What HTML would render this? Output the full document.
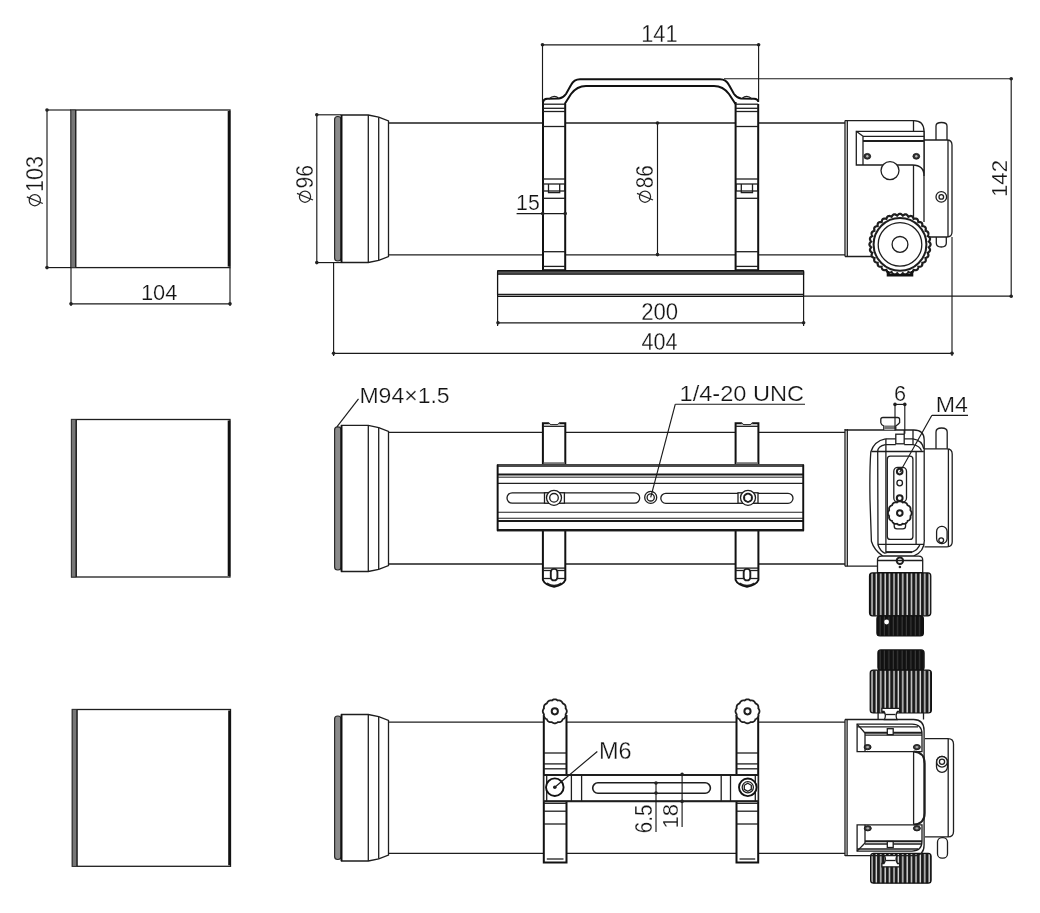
<!DOCTYPE html>
<html><head><meta charset="utf-8"><style>
html,body{margin:0;padding:0;background:#fff;}
svg{display:block;filter:grayscale(1);}
.o{fill:none;stroke:#1e1e1e;stroke-width:1.3;}
.o2{fill:none;stroke:#1e1e1e;stroke-width:2;}
.r{fill:none;stroke:#111;stroke-width:2;}
.thick{fill:none;stroke:#111;stroke-width:2.6;}
.g{fill:#777;stroke:#333;stroke-width:0.8;}
.d{fill:none;stroke:#1a1a1a;stroke-width:1.15;}
.dot{fill:#222;stroke:none;}
.f{fill:#222;stroke:none;}
.wf{fill:#fff;stroke:none;}
.w2{fill:#fff;stroke:#111;stroke-width:1.9;}
.w{fill:#fff;stroke:#1e1e1e;stroke-width:1.3;}
text{font-family:"Liberation Sans",sans-serif;fill:#111;stroke:#fff;stroke-width:1.1;opacity:0.99;}
</style></head><body>
<svg width="1040" height="913" viewBox="0 0 1040 913">
<defs>
<pattern id="kn" width="4.4" height="20" patternUnits="userSpaceOnUse" x="870"><rect width="4.4" height="20" fill="#1a1a1a"/><rect x="1.3" width="1.4" height="20" fill="#dcdcdc"/></pattern>
<pattern id="kn2" width="4.4" height="20" patternUnits="userSpaceOnUse" x="878"><rect width="4.4" height="20" fill="#111"/><rect x="1.6" width="0.8" height="20" fill="#4a4a4a"/></pattern>
</defs>
<rect class="o" x="71" y="110" width="159" height="157.60000000000002" />
<rect class="g" x="71" y="110" width="4.5" height="157.60000000000002" />
<line class="o" x1="75.8" y1="110" x2="75.8" y2="267.6"/>
<line class="thick" x1="229" y1="111" x2="229" y2="266.6"/>
<rect class="o" x="71.5" y="419.5" width="158.5" height="157.5" />
<rect class="g" x="71.5" y="419.5" width="4.5" height="157.5" />
<line class="o" x1="76.3" y1="419.5" x2="76.3" y2="577"/>
<line class="thick" x1="229" y1="420.5" x2="229" y2="576"/>
<rect class="o" x="72.3" y="709.5" width="158.2" height="156.79999999999995" />
<rect class="g" x="72.3" y="709.5" width="4.5" height="156.79999999999995" />
<line class="o" x1="77.1" y1="709.5" x2="77.1" y2="866.3"/>
<line class="thick" x1="229.5" y1="710.5" x2="229.5" y2="865.3"/>
<line class="d" x1="47" y1="110" x2="71" y2="110"/>
<line class="d" x1="47" y1="267.6" x2="71" y2="267.6"/>
<line class="d" x1="47" y1="110" x2="47" y2="267.6"/>
<circle class="dot" cx="47" cy="110" r="1.8"/>
<circle class="dot" cx="47" cy="267.6" r="1.8"/>
<line class="d" x1="71" y1="267.6" x2="71" y2="306"/>
<line class="d" x1="230" y1="267.6" x2="230" y2="306"/>
<line class="d" x1="71" y1="303.8" x2="230" y2="303.8"/>
<circle class="dot" cx="71" cy="303.8" r="1.8"/>
<circle class="dot" cx="230" cy="303.8" r="1.8"/>
<text x="0" y="0" font-size="100" transform="matrix(0.21859 0 0 0.22714 140.951 300.300)">104</text>
<rect x="334.6" y="116.5" width="6.4" height="144.5" rx="3" fill="#8a8a8a" stroke="#2a2a2a" stroke-width="1.2"/>
<path class="o" d="M341.5 115 L368.3 115 L378.7 117.2 L388.5 121 L388.5 256.5 L378.7 260.3 L368.3 262.5 L341.5 262.5 Z" />
<path d="M341.5 115 L341.5 262.5" stroke="#111" stroke-width="1.8" fill="none"/>
<line class="o" x1="368.3" y1="115" x2="368.3" y2="262.5"/>
<line class="o" x1="378.7" y1="117.2" x2="378.7" y2="260.3"/>
<line class="o" x1="388.5" y1="123" x2="845" y2="123"/>
<line class="o" x1="388.5" y1="254.8" x2="845" y2="254.8"/>
<rect x="334.6" y="426.9" width="6.4" height="143.10000000000002" rx="3" fill="#8a8a8a" stroke="#2a2a2a" stroke-width="1.2"/>
<path class="o" d="M341.5 425.4 L368.3 425.4 L378.7 427.59999999999997 L388.5 431.4 L388.5 565.5 L378.7 569.3 L368.3 571.5 L341.5 571.5 Z" />
<path d="M341.5 425.4 L341.5 571.5" stroke="#111" stroke-width="1.8" fill="none"/>
<line class="o" x1="368.3" y1="425.4" x2="368.3" y2="571.5"/>
<line class="o" x1="378.7" y1="427.59999999999997" x2="378.7" y2="569.3"/>
<line class="o" x1="388.5" y1="432.3" x2="845" y2="432.3"/>
<line class="o" x1="388.5" y1="564" x2="845" y2="564"/>
<rect x="334.6" y="716.0" width="6.4" height="143.5" rx="3" fill="#8a8a8a" stroke="#2a2a2a" stroke-width="1.2"/>
<path class="o" d="M341.5 714.5 L368.3 714.5 L378.7 716.7 L388.5 720.5 L388.5 855 L378.7 858.8 L368.3 861 L341.5 861 Z" />
<path d="M341.5 714.5 L341.5 861" stroke="#111" stroke-width="1.8" fill="none"/>
<line class="o" x1="368.3" y1="714.5" x2="368.3" y2="861"/>
<line class="o" x1="378.7" y1="716.7" x2="378.7" y2="858.8"/>
<line class="o" x1="388.5" y1="722.2" x2="845" y2="722.2"/>
<line class="o" x1="388.5" y1="853.3" x2="845" y2="853.3"/>
<rect x="543" y="103" width="22.200000000000045" height="169" fill="#fff"/>
<path class="r" d="M543 102 L543 272.5 M565.2 104 L565.2 272.5"/>
<line class="o" x1="543" y1="104.2" x2="565.2" y2="104.2"/>
<line class="o" x1="543" y1="108.3" x2="565.2" y2="108.3"/>
<line class="o" x1="543" y1="111.5" x2="565.2" y2="111.5"/>
<line class="o" x1="543" y1="126.5" x2="565.2" y2="126.5"/>
<line class="o" x1="543" y1="179" x2="565.2" y2="179"/>
<line class="o" x1="543" y1="198.3" x2="565.2" y2="198.3"/>
<line class="o" x1="543" y1="251.7" x2="565.2" y2="251.7"/>
<line class="o" x1="543" y1="266.4" x2="565.2" y2="266.4"/>
<line class="o" x1="543" y1="269.8" x2="565.2" y2="269.8"/>
<rect class="o" x="543.5" y="184" width="21.200000000000045" height="7" />
<path class="o" d="M548.5 184 L548.5 192.7 L559.7 192.7 L559.7 184" />
<rect x="735.6" y="103" width="22.600000000000023" height="169" fill="#fff"/>
<path class="r" d="M735.6 102 L735.6 272.5 M758.2 104 L758.2 272.5"/>
<line class="o" x1="735.6" y1="104.2" x2="758.2" y2="104.2"/>
<line class="o" x1="735.6" y1="108.3" x2="758.2" y2="108.3"/>
<line class="o" x1="735.6" y1="111.5" x2="758.2" y2="111.5"/>
<line class="o" x1="735.6" y1="126.5" x2="758.2" y2="126.5"/>
<line class="o" x1="735.6" y1="179" x2="758.2" y2="179"/>
<line class="o" x1="735.6" y1="198.3" x2="758.2" y2="198.3"/>
<line class="o" x1="735.6" y1="251.7" x2="758.2" y2="251.7"/>
<line class="o" x1="735.6" y1="266.4" x2="758.2" y2="266.4"/>
<line class="o" x1="735.6" y1="269.8" x2="758.2" y2="269.8"/>
<rect class="o" x="736.1" y="184" width="21.600000000000023" height="7" />
<path class="o" d="M741.3000000000001 184 L741.3000000000001 192.7 L752.5000000000001 192.7 L752.5000000000001 184" />
<path class="r" d="M543 102 Q543.5 99 547 98.8 L559 98.5 Q563 98 566 94 L571 85 Q574 79.2 580 79.2 L720 79.2 Q726 79.2 729 85 L734 94 Q737 98 741 98.5 L754 98.8 Q758 99 758.3 102"/>
<path class="r" d="M564.7 104 L571 94 Q577 86 586 86 L714 86 Q723 86 729 94 L735.5 104"/>
<path class="o" d="M549 99 Q554 94 559 98.5" />
<path class="o" d="M742 98.5 Q747 94 752 99" />
<rect x="497.6" y="270.7" width="306" height="25.7" rx="1" fill="#fff" stroke="#111" stroke-width="1.3"/>
<rect x="497.6" y="270.9" width="306" height="3.3" fill="#555" stroke="#111" stroke-width="1.1"/>
<line class="o" x1="497.6" y1="294.5" x2="803.6" y2="294.5"/>
<line class="d" x1="657.5" y1="123" x2="657.5" y2="254.6"/>
<circle class="dot" cx="657.5" cy="123" r="1.8"/>
<circle class="dot" cx="657.5" cy="254.6" r="1.8"/>
<line class="d" x1="516.6" y1="213.6" x2="565.4" y2="213.6"/>
<circle class="dot" cx="542.7" cy="213.6" r="1.8"/>
<circle class="dot" cx="565.2" cy="213.6" r="1.8"/>
<text x="0" y="0" font-size="100" transform="matrix(0.21313 0 0 0.21571 516.095 209.800)">15</text>
<line class="d" x1="542.5" y1="44.8" x2="758.6" y2="44.8"/>
<circle class="dot" cx="542.5" cy="44.8" r="1.8"/>
<circle class="dot" cx="758.6" cy="44.8" r="1.8"/>
<line class="d" x1="542.5" y1="44.8" x2="542.5" y2="102"/>
<line class="d" x1="758.6" y1="44.8" x2="758.6" y2="101"/>
<text x="0" y="0" font-size="100" transform="matrix(0.21688 0 0 0.23000 641.265 41.800)">141</text>
<line class="d" x1="724" y1="78.7" x2="1011.2" y2="78.7"/>
<line class="d" x1="803.6" y1="296.1" x2="1011.2" y2="296.1"/>
<line class="d" x1="1011.2" y1="78.7" x2="1011.2" y2="296.3"/>
<circle class="dot" cx="1011.2" cy="78.7" r="1.8"/>
<circle class="dot" cx="1011.2" cy="296.3" r="1.8"/>
<line class="d" x1="497.6" y1="296" x2="497.6" y2="326"/>
<line class="d" x1="803.6" y1="296" x2="803.6" y2="326"/>
<line class="d" x1="498" y1="322.8" x2="803.6" y2="322.8"/>
<circle class="dot" cx="498" cy="322.8" r="1.8"/>
<circle class="dot" cx="803.6" cy="322.8" r="1.8"/>
<text x="0" y="0" font-size="100" transform="matrix(0.22152 0 0 0.23000 641.192 319.600)">200</text>
<line class="d" x1="333.6" y1="262" x2="333.6" y2="356"/>
<line class="d" x1="952" y1="237" x2="952" y2="356"/>
<line class="d" x1="333.6" y1="353.3" x2="952" y2="353.3"/>
<circle class="dot" cx="333.6" cy="353.3" r="1.8"/>
<circle class="dot" cx="952" cy="353.3" r="1.8"/>
<text x="0" y="0" font-size="100" transform="matrix(0.21605 0 0 0.23143 641.468 350.400)">404</text>
<line class="d" x1="316.8" y1="114.8" x2="341" y2="114.8"/>
<line class="d" x1="316.8" y1="262.6" x2="341" y2="262.6"/>
<line class="d" x1="316.8" y1="114.8" x2="316.8" y2="262.6"/>
<circle class="dot" cx="316.8" cy="114.8" r="1.8"/>
<circle class="dot" cx="316.8" cy="262.6" r="1.8"/>
<path class="o" d="M845 120.6 L913.7 120.6 Q924 120.6 924 131.3 L924 222" />
<line class="o" x1="845" y1="120.6" x2="845" y2="256.5"/>
<line class="o" x1="847.3" y1="120.6" x2="847.3" y2="256.5"/>
<line class="o" x1="845" y1="256.5" x2="880" y2="256.5"/>
<line class="o" x1="913.5" y1="120.6" x2="913.5" y2="222"/>
<path class="w" d="M856.3 131.3 L924 131.3 L924 176 Q924 165 912.5 165 L856.3 165 Z" />
<line class="o" x1="863" y1="136.3" x2="863" y2="165"/>
<line class="o" x1="856.3" y1="131.3" x2="863" y2="136.3"/>
<line class="o" x1="863" y1="136.3" x2="924" y2="136.3"/>
<line class="o2" x1="863" y1="141" x2="924" y2="141"/>
<ellipse cx="867.3" cy="156.3" rx="3.4" ry="2.9" fill="#333" stroke="#111" stroke-width="0.8"/><circle cx="867.3" cy="156.3" r="1.2" fill="#bbb"/>
<ellipse cx="916.3" cy="156.3" rx="3.4" ry="2.9" fill="#333" stroke="#111" stroke-width="0.8"/><circle cx="916.3" cy="156.3" r="1.2" fill="#bbb"/>
<circle class="w" cx="890" cy="170.6" r="9" />
<path class="o" d="M924 140 L947 140 Q952 140 952 145 L952 232 Q952 237 947 237 L924 237" />
<line class="o" x1="948" y1="140" x2="948" y2="237"/>
<path class="o" d="M936 140 L936 126 Q936 122.5 941.5 122.5 Q947 122.5 947 126 L947 140" />
<path class="o" d="M936.3 237 L936.3 243 Q936.3 247 941.3 247 Q946.3 247 946.3 243 L946.3 237" />
<circle class="o" cx="941.3" cy="196.9" r="5.3" />
<circle class="o" cx="941.3" cy="196.9" r="2.3" />
<path class="w" d="M930.60 244.40 L930.54 244.90 L930.36 245.39 L930.07 245.88 L929.69 246.35 L929.24 246.80 L928.76 247.23 L929.15 247.75 L929.50 248.28 L929.78 248.82 L929.97 249.35 L930.05 249.87 L930.01 250.37 L929.85 250.85 L929.58 251.30 L929.20 251.71 L928.74 252.10 L928.21 252.46 L927.66 252.79 L927.93 253.38 L928.17 253.96 L928.34 254.54 L928.43 255.10 L928.40 255.62 L928.27 256.11 L928.02 256.55 L927.66 256.93 L927.21 257.27 L926.68 257.56 L926.10 257.81 L925.49 258.02 L925.65 258.65 L925.76 259.27 L925.82 259.88 L925.79 260.44 L925.67 260.95 L925.44 261.40 L925.11 261.78 L924.69 262.09 L924.18 262.33 L923.60 262.51 L922.98 262.64 L922.34 262.73 L922.37 263.38 L922.37 264.02 L922.30 264.62 L922.17 265.16 L921.95 265.64 L921.64 266.04 L921.24 266.35 L920.76 266.57 L920.22 266.70 L919.62 266.77 L918.98 266.77 L918.33 266.74 L918.24 267.38 L918.11 268.00 L917.93 268.58 L917.69 269.09 L917.38 269.51 L917.00 269.84 L916.55 270.07 L916.04 270.19 L915.48 270.22 L914.88 270.16 L914.25 270.05 L913.62 269.89 L913.41 270.50 L913.16 271.08 L912.87 271.61 L912.53 272.06 L912.15 272.42 L911.71 272.67 L911.22 272.80 L910.70 272.83 L910.14 272.74 L909.56 272.57 L908.98 272.33 L908.39 272.06 L908.06 272.61 L907.70 273.14 L907.31 273.60 L906.90 273.98 L906.45 274.25 L905.97 274.41 L905.47 274.45 L904.95 274.37 L904.42 274.18 L903.88 273.90 L903.35 273.55 L902.83 273.16 L902.40 273.64 L901.95 274.09 L901.48 274.47 L900.99 274.76 L900.50 274.94 L900.00 275.00 L899.50 274.94 L899.01 274.76 L898.52 274.47 L898.05 274.09 L897.60 273.64 L897.17 273.16 L896.65 273.55 L896.12 273.90 L895.58 274.18 L895.05 274.37 L894.53 274.45 L894.03 274.41 L893.55 274.25 L893.10 273.98 L892.69 273.60 L892.30 273.14 L891.94 272.61 L891.61 272.06 L891.02 272.33 L890.44 272.57 L889.86 272.74 L889.30 272.83 L888.78 272.80 L888.29 272.67 L887.85 272.42 L887.47 272.06 L887.13 271.61 L886.84 271.08 L886.59 270.50 L886.38 269.89 L885.75 270.05 L885.12 270.16 L884.52 270.22 L883.96 270.19 L883.45 270.07 L883.00 269.84 L882.62 269.51 L882.31 269.09 L882.07 268.58 L881.89 268.00 L881.76 267.38 L881.67 266.74 L881.02 266.77 L880.38 266.77 L879.78 266.70 L879.24 266.57 L878.76 266.35 L878.36 266.04 L878.05 265.64 L877.83 265.16 L877.70 264.62 L877.63 264.02 L877.63 263.38 L877.66 262.73 L877.02 262.64 L876.40 262.51 L875.82 262.33 L875.31 262.09 L874.89 261.78 L874.56 261.40 L874.33 260.95 L874.21 260.44 L874.18 259.88 L874.24 259.27 L874.35 258.65 L874.51 258.02 L873.90 257.81 L873.32 257.56 L872.79 257.27 L872.34 256.93 L871.98 256.55 L871.73 256.11 L871.60 255.62 L871.57 255.10 L871.66 254.54 L871.83 253.96 L872.07 253.38 L872.34 252.79 L871.79 252.46 L871.26 252.10 L870.80 251.71 L870.42 251.30 L870.15 250.85 L869.99 250.37 L869.95 249.87 L870.03 249.35 L870.22 248.82 L870.50 248.28 L870.85 247.75 L871.24 247.23 L870.76 246.80 L870.31 246.35 L869.93 245.88 L869.64 245.39 L869.46 244.90 L869.40 244.40 L869.46 243.90 L869.64 243.41 L869.93 242.92 L870.31 242.45 L870.76 242.00 L871.24 241.57 L870.85 241.05 L870.50 240.52 L870.22 239.98 L870.03 239.45 L869.95 238.93 L869.99 238.43 L870.15 237.95 L870.42 237.50 L870.80 237.09 L871.26 236.70 L871.79 236.34 L872.34 236.01 L872.07 235.42 L871.83 234.84 L871.66 234.26 L871.57 233.70 L871.60 233.18 L871.73 232.69 L871.98 232.25 L872.34 231.87 L872.79 231.53 L873.32 231.24 L873.90 230.99 L874.51 230.78 L874.35 230.15 L874.24 229.53 L874.18 228.92 L874.21 228.36 L874.33 227.85 L874.56 227.40 L874.89 227.02 L875.31 226.71 L875.82 226.47 L876.40 226.29 L877.02 226.16 L877.66 226.07 L877.63 225.42 L877.63 224.78 L877.70 224.18 L877.83 223.64 L878.05 223.16 L878.36 222.76 L878.76 222.45 L879.24 222.23 L879.78 222.10 L880.38 222.03 L881.02 222.03 L881.67 222.06 L881.76 221.42 L881.89 220.80 L882.07 220.22 L882.31 219.71 L882.62 219.29 L883.00 218.96 L883.45 218.73 L883.96 218.61 L884.52 218.58 L885.12 218.64 L885.75 218.75 L886.38 218.91 L886.59 218.30 L886.84 217.72 L887.13 217.19 L887.47 216.74 L887.85 216.38 L888.29 216.13 L888.78 216.00 L889.30 215.97 L889.86 216.06 L890.44 216.23 L891.02 216.47 L891.61 216.74 L891.94 216.19 L892.30 215.66 L892.69 215.20 L893.10 214.82 L893.55 214.55 L894.03 214.39 L894.53 214.35 L895.05 214.43 L895.58 214.62 L896.12 214.90 L896.65 215.25 L897.17 215.64 L897.60 215.16 L898.05 214.71 L898.52 214.33 L899.01 214.04 L899.50 213.86 L900.00 213.80 L900.50 213.86 L900.99 214.04 L901.48 214.33 L901.95 214.71 L902.40 215.16 L902.83 215.64 L903.35 215.25 L903.88 214.90 L904.42 214.62 L904.95 214.43 L905.47 214.35 L905.97 214.39 L906.45 214.55 L906.90 214.82 L907.31 215.20 L907.70 215.66 L908.06 216.19 L908.39 216.74 L908.98 216.47 L909.56 216.23 L910.14 216.06 L910.70 215.97 L911.22 216.00 L911.71 216.13 L912.15 216.38 L912.53 216.74 L912.87 217.19 L913.16 217.72 L913.41 218.30 L913.62 218.91 L914.25 218.75 L914.88 218.64 L915.48 218.58 L916.04 218.61 L916.55 218.73 L917.00 218.96 L917.38 219.29 L917.69 219.71 L917.93 220.22 L918.11 220.80 L918.24 221.42 L918.33 222.06 L918.98 222.03 L919.62 222.03 L920.22 222.10 L920.76 222.23 L921.24 222.45 L921.64 222.76 L921.95 223.16 L922.17 223.64 L922.30 224.18 L922.37 224.78 L922.37 225.42 L922.34 226.07 L922.98 226.16 L923.60 226.29 L924.18 226.47 L924.69 226.71 L925.11 227.02 L925.44 227.40 L925.67 227.85 L925.79 228.36 L925.82 228.92 L925.76 229.52 L925.65 230.15 L925.49 230.78 L926.10 230.99 L926.68 231.24 L927.21 231.53 L927.66 231.87 L928.02 232.25 L928.27 232.69 L928.40 233.18 L928.43 233.70 L928.34 234.26 L928.17 234.84 L927.93 235.42 L927.66 236.01 L928.21 236.34 L928.74 236.70 L929.20 237.09 L929.58 237.50 L929.85 237.95 L930.01 238.43 L930.05 238.93 L929.97 239.45 L929.78 239.98 L929.50 240.52 L929.15 241.05 L928.76 241.57 L929.24 242.00 L929.69 242.45 L930.07 242.92 L930.36 243.41 L930.54 243.90 L930.60 244.40Z" style="stroke-width:2.2"/>
<path class="thick" d="M888 271 L888 275.3 L912 275.3 L912 271" />
<circle class="o2" cx="900" cy="244.4" r="26.4" />
<circle class="o" cx="900" cy="244.4" r="21.8" />
<circle class="o" cx="900" cy="244.4" r="7.9" />
<circle cx="34.8" cy="200.20000000000002" r="5.6" fill="none" stroke="#262626" stroke-width="1.25"/>
<line x1="26.799999999999997" y1="196.9" x2="42.8" y2="203.50000000000003" stroke="#262626" stroke-width="1.25"/>
<text x="0" y="0" font-size="100" transform="matrix(0 -0.21623 0.23286 0 42.800 191.930)">103</text>
<circle cx="305" cy="196.70000000000002" r="5.6" fill="none" stroke="#262626" stroke-width="1.25"/>
<line x1="297" y1="193.4" x2="313" y2="200.00000000000003" stroke="#262626" stroke-width="1.25"/>
<text x="0" y="0" font-size="100" transform="matrix(0 -0.21078 0.23286 0 313.000 188.554)">96</text>
<circle cx="645" cy="196.70000000000002" r="5.6" fill="none" stroke="#262626" stroke-width="1.25"/>
<line x1="637" y1="193.4" x2="653" y2="200.00000000000003" stroke="#262626" stroke-width="1.25"/>
<text x="0" y="0" font-size="100" transform="matrix(0 -0.20777 0.23286 0 653.000 188.331)">86</text>
<text x="0" y="0" font-size="100" transform="matrix(0 -0.22208 0.22571 0 1007.000 196.977)">142</text>
<path class="r" style="fill:#fff" d="M542.9 464.5 L542.9 423.2 L565.3 423.2 L565.3 464.5"/>
<rect x="548.8999999999999" y="422" width="10.4" height="2.4" fill="#fff"/>
<path d="M548.8999999999999 422.6 Q549.5999999999999 424.6 551.0999999999999 424.6 L557.0999999999999 424.6 Q558.5999999999999 424.6 559.3 422.6" fill="none" stroke="#222" stroke-width="1"/>
<line class="o" x1="542.9" y1="426.3" x2="565.3" y2="426.3"/>
<rect x="543.6999999999999" y="462.2" width="20.799999999999976" height="2.6" fill="#777"/>
<path class="r" style="fill:#fff" d="M542.9 531 L542.9 580 Q544.9 585 554.0999999999999 586.7 Q563.3 585 565.3 580 L565.3 531"/>
<line class="o" x1="542.9" y1="568.1" x2="565.3" y2="568.1"/>
<line class="o" x1="542.9" y1="570.5" x2="565.3" y2="570.5"/>
<line class="o" x1="542.9" y1="578.5" x2="565.3" y2="578.5"/>
<rect class="w" style="stroke-width:1.9" x="550.8" y="568.9" width="6.6" height="11.5" rx="3.2"/>
<path class="o" d="M546.9 583 Q554.0999999999999 588 561.3 583" />
<path class="r" style="fill:#fff" d="M735.6 464.5 L735.6 423.2 L758.4 423.2 L758.4 464.5"/>
<rect x="741.8" y="422" width="10.4" height="2.4" fill="#fff"/>
<path d="M741.8 422.6 Q742.5 424.6 744.0 424.6 L750.0 424.6 Q751.5 424.6 752.2 422.6" fill="none" stroke="#222" stroke-width="1"/>
<line class="o" x1="735.6" y1="426.3" x2="758.4" y2="426.3"/>
<rect x="736.4" y="462.2" width="21.199999999999953" height="2.6" fill="#777"/>
<path class="r" style="fill:#fff" d="M735.6 531 L735.6 580 Q737.6 585 747.0 586.7 Q756.4 585 758.4 580 L758.4 531"/>
<line class="o" x1="735.6" y1="568.1" x2="758.4" y2="568.1"/>
<line class="o" x1="735.6" y1="570.5" x2="758.4" y2="570.5"/>
<line class="o" x1="735.6" y1="578.5" x2="758.4" y2="578.5"/>
<rect class="w" style="stroke-width:1.9" x="743.7" y="568.9" width="6.6" height="11.5" rx="3.2"/>
<path class="o" d="M739.6 583 Q747.0 588 754.4 583" />
<rect class="w" x="497.6" y="464.8" width="305.7" height="66" />
<path d="M497.6 465.6 L803.3 465.6" fill="none" stroke="#4a4a4a" stroke-width="2.6"/>
<path d="M497.6 474.5 L803.3 474.5 M497.6 521 L803.3 521 M497.6 530 L803.3 530" fill="none" stroke="#1a1a1a" stroke-width="2"/>
<path d="M497.6 477.3 L803.3 477.3" fill="none" stroke="#666" stroke-width="1.6"/>
<path d="M497.6 483.4 L803.3 483.4 M497.6 512.2 L803.3 512.2 M497.6 518.3 L803.3 518.3" fill="none" stroke="#222" stroke-width="1.1"/>
<path d="M497.6 464.8 L497.6 530.8 M803.3 464.8 L803.3 530.8" fill="none" stroke="#111" stroke-width="1.8"/>
<rect class="o" x="507" y="492.8" width="132.7" height="10.4" rx="5.2"/>
<rect class="o" x="660.8" y="493.3" width="132.2" height="10" rx="5"/>
<rect class="w" x="544.5" y="492.8" width="19.899999999999977" height="10.4" />
<circle class="w" cx="554" cy="497.8" r="7.5" />
<circle class="o" cx="554" cy="497.8" r="4.3" />
<rect class="w" x="738" y="492.8" width="20" height="10.4" />
<circle class="w" cx="748" cy="497.8" r="7.5" />
<circle class="o" cx="748" cy="497.8" r="4.3" />
<path class="o" d="M748 493.5 L751.5 495.6 L751.5 499.9 L748 502 L744.5 499.9 L744.5 495.6 Z" />
<circle class="w" cx="650.7" cy="497.4" r="6" />
<circle class="o" cx="650.7" cy="497.4" r="3.6" />
<text x="0" y="0" font-size="100" transform="matrix(0.23026 0 0 0.22643 359.408 402.750)">M94×1.5</text>
<line class="d" x1="358.5" y1="398.8" x2="336.9" y2="426.9"/>
<text x="0" y="0" font-size="100" transform="matrix(0.23605 0 0 0.22429 679.512 400.800)">1/4-20 UNC</text>
<line class="d" x1="675.3" y1="404.2" x2="805" y2="404.2"/>
<line class="d" x1="675.3" y1="404.2" x2="650.7" y2="497.4"/>
<line class="o" x1="845" y1="429" x2="845" y2="566.2"/>
<line class="o" x1="847.3" y1="429" x2="847.3" y2="566.2"/>
<path class="o" d="M845 430 L913.8 430 Q924.2 430 924.2 440 L924.2 540" />
<line class="o" x1="845" y1="566.2" x2="877.5" y2="566.2"/>
<path class="w" d="M883.8 430 L883.8 426 Q881 424.5 880.8 422.7 L880.8 419.5 Q880.8 417.5 883 417.5 L897.5 417.5 Q899.6 417.5 899.6 419.5 L899.6 422.7 Q898.5 424.5 895.8 426 L895.8 430"/>
<rect x="884.5" y="425.5" width="10.5" height="4" fill="#777"/>
<line class="d" x1="904.2" y1="430" x2="904.2" y2="434.2"/>
<path class="o" d="M885.4 438.8 Q874 441 870.8 452 Q869.5 470 870 500 L871.4 541.2 Q874 550 882.8 556.1 L913.5 556.1 Q924.4 552 924.4 540"/>
<path class="o" d="M885.4 438.8 L913 438.8 Q922 440 923.8 448.8"/>
<path class="o" d="M885.4 444.6 Q877.7 446 877.7 451.5 L878 544.7 Q880 551 885.4 553.5"/>
<path class="o" d="M895.8 444.6 Q890 444.6 885.4 444.6 M904.2 444.6 L913 444.6 Q920 446 921.5 450.8"/>
<line class="o" x1="871.5" y1="451.5" x2="923.8" y2="451.5"/>
<line class="o" x1="913" y1="430" x2="913" y2="444.6"/>
<line class="o" x1="885.9" y1="438.8" x2="885.9" y2="553.5"/>
<line class="o" x1="916.1" y1="451.5" x2="916.1" y2="544.3"/>
<line class="o" x1="878" y1="544.3" x2="924.2" y2="544.3"/>
<line class="o2" x1="885.9" y1="552.1" x2="912" y2="552.1"/>
<path class="o" d="M912 552.1 Q918 550 920 544.3" />
<rect class="w" x="895.8" y="434.2" width="8.4" height="9.6" />
<rect class="o" x="887.3" y="456.2" width="25.6" height="83.2" rx="3"/>
<rect class="o" x="893.8" y="467.3" width="12.7" height="34.7" rx="4"/>
<circle class="o2" cx="899.7" cy="471.6" r="2.8" />
<circle class="o" cx="899.7" cy="483" r="2.8" />
<circle class="o2" cx="899.7" cy="498.1" r="2.9" />
<path class="o" d="M894.2 522 L894.2 526 Q894.2 528.9 897 528.9 L902.8 528.9 Q905.6 528.9 905.6 526 L905.6 522" />
<path class="w" d="M911.70 513.10 L911.66 513.62 L911.53 514.13 L911.34 514.62 L911.08 515.09 L910.77 515.53 L910.43 515.95 L910.51 516.48 L910.56 517.02 L910.55 517.55 L910.48 518.08 L910.33 518.58 L910.11 519.05 L909.81 519.48 L909.45 519.86 L909.03 520.18 L908.57 520.46 L908.08 520.69 L907.58 520.88 L907.39 521.38 L907.16 521.87 L906.88 522.33 L906.56 522.75 L906.18 523.11 L905.75 523.41 L905.28 523.63 L904.78 523.78 L904.25 523.85 L903.72 523.86 L903.18 523.81 L902.65 523.73 L902.23 524.07 L901.79 524.38 L901.32 524.64 L900.83 524.83 L900.32 524.96 L899.80 525.00 L899.28 524.96 L898.77 524.83 L898.28 524.64 L897.81 524.38 L897.37 524.07 L896.95 523.73 L896.42 523.81 L895.88 523.86 L895.35 523.85 L894.82 523.78 L894.32 523.63 L893.85 523.41 L893.42 523.11 L893.04 522.75 L892.72 522.33 L892.44 521.87 L892.21 521.38 L892.02 520.88 L891.52 520.69 L891.03 520.46 L890.57 520.18 L890.15 519.86 L889.79 519.48 L889.49 519.05 L889.27 518.58 L889.12 518.08 L889.05 517.55 L889.04 517.02 L889.09 516.48 L889.17 515.95 L888.83 515.53 L888.52 515.09 L888.26 514.62 L888.07 514.13 L887.94 513.62 L887.90 513.10 L887.94 512.58 L888.07 512.07 L888.26 511.58 L888.52 511.11 L888.83 510.67 L889.17 510.25 L889.09 509.72 L889.04 509.18 L889.05 508.65 L889.12 508.12 L889.27 507.62 L889.49 507.15 L889.79 506.72 L890.15 506.34 L890.57 506.02 L891.03 505.74 L891.52 505.51 L892.02 505.32 L892.21 504.82 L892.44 504.33 L892.72 503.87 L893.04 503.45 L893.42 503.09 L893.85 502.79 L894.32 502.57 L894.82 502.42 L895.35 502.35 L895.88 502.34 L896.42 502.39 L896.95 502.47 L897.37 502.13 L897.81 501.82 L898.28 501.56 L898.77 501.37 L899.28 501.24 L899.80 501.20 L900.32 501.24 L900.83 501.37 L901.32 501.56 L901.79 501.82 L902.23 502.13 L902.65 502.47 L903.18 502.39 L903.72 502.34 L904.25 502.35 L904.78 502.42 L905.28 502.57 L905.75 502.79 L906.18 503.09 L906.56 503.45 L906.88 503.87 L907.16 504.33 L907.39 504.82 L907.58 505.32 L908.08 505.51 L908.57 505.74 L909.03 506.02 L909.45 506.34 L909.81 506.72 L910.11 507.15 L910.33 507.62 L910.48 508.12 L910.55 508.65 L910.56 509.18 L910.51 509.72 L910.43 510.25 L910.77 510.67 L911.08 511.11 L911.34 511.58 L911.53 512.07 L911.66 512.58 L911.70 513.10Z" style="stroke-width:1.8"/>
<circle class="o2" cx="899.8" cy="513.1" r="2.8" />
<path class="w" d="M877.5 572.7 L877.5 560 Q877.5 556.1 881.5 556.1 L918.7 556.1 Q922.7 556.1 922.7 560 L922.7 572.7 Z"/>
<line class="o" x1="877.5" y1="560.5" x2="922.7" y2="560.5"/>
<circle class="o2" cx="899.9" cy="560.8" r="3.2" />
<circle class="dot" cx="899.9" cy="567" r="1.3"/>
<path class="o" d="M924 448.8 L947 448.8 Q952.2 448.8 952.2 454 L952.2 542 Q952.2 546.8 947 546.8 L924.5 546.8" />
<line class="o" x1="948.4" y1="449" x2="948.4" y2="546.8"/>
<path class="o" d="M936 448.8 L936 432 Q936 428 941.6 428 Q947.2 428 947.2 432 L947.2 448.8"/>
<rect class="o" x="936.6" y="526.4" width="10.5" height="17.2" rx="5"/>
<circle class="o" cx="941.2" cy="540.2" r="2.4" />
<line class="d" x1="895" y1="404.4" x2="904.8" y2="404.4"/>
<circle class="dot" cx="895" cy="404.4" r="1.8"/>
<circle class="dot" cx="904.8" cy="404.4" r="1.8"/>
<line class="d" x1="895" y1="404.4" x2="895" y2="430.6"/>
<line class="d" x1="904.8" y1="404.4" x2="904.8" y2="433.8"/>
<text x="0" y="0" font-size="100" transform="matrix(0.21739 0 0 0.21429 893.913 400.600)">6</text>
<text x="0" y="0" font-size="100" transform="matrix(0.23125 0 0 0.22429 935.850 411.700)">M4</text>
<line class="d" x1="931.9" y1="415.3" x2="968" y2="415.3"/>
<line class="d" x1="931.9" y1="415.3" x2="899.8" y2="472.3"/>
<rect x="869.5" y="572.9" width="61.299999999999955" height="42.89999999999998" rx="3" fill="url(#kn)" stroke="#111" stroke-width="1.2"/>
<rect x="876.9" y="615.8" width="46.5" height="20.200000000000045" rx="3" fill="url(#kn2)" stroke="#111" stroke-width="1.2"/>
<circle class="wf" cx="886.6" cy="622" r="2.4" />
<rect x="877.9" y="649.9" width="46.200000000000045" height="20.300000000000068" rx="3" fill="url(#kn2)" stroke="#111" stroke-width="1.2"/>
<rect x="870.2" y="670.2" width="61.19999999999993" height="42.799999999999955" rx="3" fill="url(#kn)" stroke="#111" stroke-width="1.2"/>
<rect x="870.6" y="853.3" width="60.5" height="29.90000000000009" rx="3" fill="url(#kn)" stroke="#111" stroke-width="1.2"/>
<path class="r" style="fill:#fff" d="M543.8 715 L543.8 862.4 L566.5 862.4 L566.5 715"/>
<line class="o" x1="543.8" y1="753" x2="566.5" y2="753"/>
<line class="o" x1="543.8" y1="763.9" x2="566.5" y2="763.9"/>
<line class="o" x1="543.8" y1="768.8" x2="566.5" y2="768.8"/>
<line class="o" x1="543.8" y1="803.3" x2="566.5" y2="803.3"/>
<line class="o" x1="543.8" y1="811.2" x2="566.5" y2="811.2"/>
<line class="o" x1="543.8" y1="824" x2="566.5" y2="824"/>
<path class="o" d="M546.8 859 L563.5 859" />
<path class="w" d="M566.80 711.30 L566.76 711.82 L566.65 712.34 L566.47 712.84 L566.22 713.31 L565.94 713.77 L565.62 714.20 L565.68 714.73 L565.70 715.27 L565.67 715.80 L565.58 716.33 L565.42 716.83 L565.19 717.30 L564.90 717.73 L564.54 718.12 L564.13 718.46 L563.69 718.76 L563.21 719.01 L562.72 719.22 L562.51 719.71 L562.26 720.19 L561.96 720.63 L561.62 721.04 L561.23 721.40 L560.80 721.69 L560.33 721.92 L559.83 722.08 L559.30 722.17 L558.77 722.20 L558.23 722.18 L557.70 722.12 L557.27 722.44 L556.81 722.72 L556.34 722.97 L555.84 723.15 L555.32 723.26 L554.80 723.30 L554.28 723.26 L553.76 723.15 L553.26 722.97 L552.79 722.72 L552.33 722.44 L551.90 722.12 L551.37 722.18 L550.83 722.20 L550.30 722.17 L549.77 722.08 L549.27 721.92 L548.80 721.69 L548.37 721.40 L547.98 721.04 L547.64 720.63 L547.34 720.19 L547.09 719.71 L546.88 719.22 L546.39 719.01 L545.91 718.76 L545.47 718.46 L545.06 718.12 L544.70 717.73 L544.41 717.30 L544.18 716.83 L544.02 716.33 L543.93 715.80 L543.90 715.27 L543.92 714.73 L543.98 714.20 L543.66 713.77 L543.38 713.31 L543.13 712.84 L542.95 712.34 L542.84 711.82 L542.80 711.30 L542.84 710.78 L542.95 710.26 L543.13 709.76 L543.38 709.29 L543.66 708.83 L543.98 708.40 L543.92 707.87 L543.90 707.33 L543.93 706.80 L544.02 706.27 L544.18 705.77 L544.41 705.30 L544.70 704.87 L545.06 704.48 L545.47 704.14 L545.91 703.84 L546.39 703.59 L546.88 703.38 L547.09 702.89 L547.34 702.41 L547.64 701.97 L547.98 701.56 L548.37 701.20 L548.80 700.91 L549.27 700.68 L549.77 700.52 L550.30 700.43 L550.83 700.40 L551.37 700.42 L551.90 700.48 L552.33 700.16 L552.79 699.88 L553.26 699.63 L553.76 699.45 L554.28 699.34 L554.80 699.30 L555.32 699.34 L555.84 699.45 L556.34 699.63 L556.81 699.88 L557.27 700.16 L557.70 700.48 L558.23 700.42 L558.77 700.40 L559.30 700.43 L559.83 700.52 L560.33 700.68 L560.80 700.91 L561.23 701.20 L561.62 701.56 L561.96 701.97 L562.26 702.41 L562.51 702.89 L562.72 703.38 L563.21 703.59 L563.69 703.84 L564.13 704.14 L564.54 704.48 L564.90 704.87 L565.19 705.30 L565.42 705.77 L565.58 706.27 L565.67 706.80 L565.70 707.33 L565.68 707.87 L565.62 708.40 L565.94 708.83 L566.22 709.29 L566.47 709.76 L566.65 710.26 L566.76 710.78 L566.80 711.30Z" style="stroke-width:1.8"/>
<circle class="o2" cx="554.8" cy="711.3" r="3.1" />
<path class="r" style="fill:#fff" d="M736.5 715 L736.5 862.4 L758.2 862.4 L758.2 715"/>
<line class="o" x1="736.5" y1="753" x2="758.2" y2="753"/>
<line class="o" x1="736.5" y1="763.9" x2="758.2" y2="763.9"/>
<line class="o" x1="736.5" y1="768.8" x2="758.2" y2="768.8"/>
<line class="o" x1="736.5" y1="803.3" x2="758.2" y2="803.3"/>
<line class="o" x1="736.5" y1="811.2" x2="758.2" y2="811.2"/>
<line class="o" x1="736.5" y1="824" x2="758.2" y2="824"/>
<path class="o" d="M739.5 859 L755.2 859" />
<path class="w" d="M759.50 711.30 L759.46 711.82 L759.35 712.34 L759.17 712.84 L758.92 713.31 L758.64 713.77 L758.32 714.20 L758.38 714.73 L758.40 715.27 L758.37 715.80 L758.28 716.33 L758.12 716.83 L757.89 717.30 L757.60 717.73 L757.24 718.12 L756.83 718.46 L756.39 718.76 L755.91 719.01 L755.42 719.22 L755.21 719.71 L754.96 720.19 L754.66 720.63 L754.32 721.04 L753.93 721.40 L753.50 721.69 L753.03 721.92 L752.53 722.08 L752.00 722.17 L751.47 722.20 L750.93 722.18 L750.40 722.12 L749.97 722.44 L749.51 722.72 L749.04 722.97 L748.54 723.15 L748.02 723.26 L747.50 723.30 L746.98 723.26 L746.46 723.15 L745.96 722.97 L745.49 722.72 L745.03 722.44 L744.60 722.12 L744.07 722.18 L743.53 722.20 L743.00 722.17 L742.47 722.08 L741.97 721.92 L741.50 721.69 L741.07 721.40 L740.68 721.04 L740.34 720.63 L740.04 720.19 L739.79 719.71 L739.58 719.22 L739.09 719.01 L738.61 718.76 L738.17 718.46 L737.76 718.12 L737.40 717.73 L737.11 717.30 L736.88 716.83 L736.72 716.33 L736.63 715.80 L736.60 715.27 L736.62 714.73 L736.68 714.20 L736.36 713.77 L736.08 713.31 L735.83 712.84 L735.65 712.34 L735.54 711.82 L735.50 711.30 L735.54 710.78 L735.65 710.26 L735.83 709.76 L736.08 709.29 L736.36 708.83 L736.68 708.40 L736.62 707.87 L736.60 707.33 L736.63 706.80 L736.72 706.27 L736.88 705.77 L737.11 705.30 L737.40 704.87 L737.76 704.48 L738.17 704.14 L738.61 703.84 L739.09 703.59 L739.58 703.38 L739.79 702.89 L740.04 702.41 L740.34 701.97 L740.68 701.56 L741.07 701.20 L741.50 700.91 L741.97 700.68 L742.47 700.52 L743.00 700.43 L743.53 700.40 L744.07 700.42 L744.60 700.48 L745.03 700.16 L745.49 699.88 L745.96 699.63 L746.46 699.45 L746.98 699.34 L747.50 699.30 L748.02 699.34 L748.54 699.45 L749.04 699.63 L749.51 699.88 L749.97 700.16 L750.40 700.48 L750.93 700.42 L751.47 700.40 L752.00 700.43 L752.53 700.52 L753.03 700.68 L753.50 700.91 L753.93 701.20 L754.32 701.56 L754.66 701.97 L754.96 702.41 L755.21 702.89 L755.42 703.38 L755.91 703.59 L756.39 703.84 L756.83 704.14 L757.24 704.48 L757.60 704.87 L757.89 705.30 L758.12 705.77 L758.28 706.27 L758.37 706.80 L758.40 707.33 L758.38 707.87 L758.32 708.40 L758.64 708.83 L758.92 709.29 L759.17 709.76 L759.35 710.26 L759.46 710.78 L759.50 711.30Z" style="stroke-width:1.8"/>
<circle class="o2" cx="747.5" cy="711.3" r="3.1" />
<rect class="w" x="543.8" y="774.9" width="214.4" height="26.4" />
<line class="o2" x1="543.8" y1="775" x2="758.2" y2="775"/>
<line class="o2" x1="543.8" y1="801.3" x2="758.2" y2="801.3"/>
<line class="o" x1="546.7" y1="775" x2="546.7" y2="801.3"/>
<line class="o" x1="571.4" y1="775" x2="571.4" y2="801.3"/>
<line class="o" x1="581.6" y1="775" x2="581.6" y2="801.3"/>
<line class="o" x1="721.2" y1="775" x2="721.2" y2="801.3"/>
<line class="o" x1="730.5" y1="775" x2="730.5" y2="801.3"/>
<line class="o" x1="755.3" y1="775" x2="755.3" y2="801.3"/>
<rect class="o" style="stroke-width:1.6" x="592.7" y="782.8" width="117.7" height="10.5" rx="5.2"/>
<circle class="w2" cx="554.8" cy="787.2" r="8.8" />
<circle cx="554.8" cy="787.2" r="1.8" fill="#222"/>
<circle class="w2" cx="747.8" cy="787.3" r="8.8" />
<circle class="o" cx="747.8" cy="787.3" r="5.6" />
<path class="o" d="M747.8 783.3 L751.3 785.3 L751.3 789.3 L747.8 791.3 L744.3 789.3 L744.3 785.3 Z" />
<text x="0" y="0" font-size="100" transform="matrix(0.23492 0 0 0.23000 598.921 758.600)">M6</text>
<line class="d" x1="597.3" y1="751.5" x2="554.8" y2="787.2"/>
<line class="d" x1="656" y1="783" x2="656" y2="832.1"/>
<circle class="dot" cx="656" cy="783" r="1.8"/>
<circle class="dot" cx="656" cy="793" r="1.8"/>
<line class="d" x1="682.1" y1="774.4" x2="682.1" y2="827.1"/>
<circle class="dot" cx="682.1" cy="774.4" r="1.8"/>
<circle class="dot" cx="682.1" cy="801.4" r="1.8"/>
<text x="0" y="0" font-size="100" transform="matrix(0 -0.20692 0.23000 0 652.200 833.135)">6.5</text>
<text x="0" y="0" font-size="100" transform="matrix(0 -0.22020 0.21857 0 677.900 828.462)">18</text>
<line class="o" x1="845" y1="719.5" x2="845" y2="856"/>
<line class="o" x1="847.1" y1="719.5" x2="847.1" y2="856"/>
<path class="o" d="M845 719.5 L913.6 719.5 Q924.1 719.5 924.1 730.7 L924.1 845 Q924.1 855.7 913.6 855.7 L845 855.7" />
<line class="o" x1="878.1" y1="713" x2="878.1" y2="719.5"/>
<line class="o" x1="923.5" y1="713" x2="923.5" y2="719.5"/>
<path class="w" d="M884.5 719.5 Q886.5 715 884 711.5 L881.9 711.5 L881.9 708.4 L899.6 708.4 L899.6 711.5 L897.5 711.5 Q895 715 897 719.5 Z"/>
<line class="o" x1="886" y1="714.5" x2="895.5" y2="714.5"/>
<path class="w" d="M884.5 855.7 Q886.5 859.5 884 863.5 L881.9 863.5 L881.9 866.8 L899.6 866.8 L899.6 863.5 L897.5 863.5 Q895 859.5 897 855.7 Z"/>
<line class="o" x1="886" y1="860.5" x2="895.5" y2="860.5"/>
<path class="o" d="M857.1 724.1 L912 724.1 Q922 724.1 922 734 L922 751.7 L857.1 751.7 Z"/>
<line class="o" x1="865" y1="733" x2="865" y2="751.7"/>
<line class="o" x1="857.1" y1="724.1" x2="865" y2="733"/>
<line class="o2" x1="865" y1="732.7" x2="922" y2="732.7"/>
<line class="o" x1="865" y1="735.2" x2="922" y2="735.2"/>
<line class="o" x1="857.1" y1="726.8" x2="918" y2="726.8"/>
<rect class="w" x="887.3" y="728.7" width="5.9" height="5.9" />
<ellipse cx="867.6" cy="747.1" rx="3.5" ry="2.6" fill="#3a3a3a" stroke="#111" stroke-width="0.9"/><ellipse cx="867.6" cy="747.1" rx="1.6" ry="1.1" fill="#aaa"/>
<ellipse cx="916.9" cy="747.1" rx="3.5" ry="2.6" fill="#3a3a3a" stroke="#111" stroke-width="0.9"/><ellipse cx="916.9" cy="747.1" rx="1.6" ry="1.1" fill="#aaa"/>
<path class="o" d="M857.1 851.1 L912 851.1 Q922 851.1 922 841 L922 824.8 L857.1 824.8 Z"/>
<line class="o" x1="865" y1="824.8" x2="865" y2="843"/>
<line class="o" x1="857.1" y1="851.1" x2="865" y2="843"/>
<line class="o2" x1="865" y1="841.2" x2="922" y2="841.2"/>
<line class="o" x1="865" y1="844" x2="922" y2="844"/>
<line class="o" x1="857.1" y1="849" x2="918" y2="849"/>
<rect class="w" x="887.3" y="841.5" width="5.9" height="6" />
<ellipse cx="867.8" cy="828.3" rx="3.5" ry="2.6" fill="#3a3a3a" stroke="#111" stroke-width="0.9"/><ellipse cx="867.8" cy="828.3" rx="1.6" ry="1.1" fill="#aaa"/>
<ellipse cx="916.9" cy="828.3" rx="3.5" ry="2.6" fill="#3a3a3a" stroke="#111" stroke-width="0.9"/><ellipse cx="916.9" cy="828.3" rx="1.6" ry="1.1" fill="#aaa"/>
<path class="o2" d="M913.6 751.5 Q924.7 752 924.7 764 L924.7 813 Q924.7 824 913.6 824.6"/>
<line class="o" x1="913.6" y1="752" x2="913.6" y2="824.5"/>
<path class="o" d="M925 738.6 L948 738.6 Q953.5 738.6 953.5 744 L953.5 831.5 Q953.5 836.9 948 836.9 L925 836.9" />
<line class="o" x1="948.2" y1="739" x2="948.2" y2="836.9"/>
<rect class="w" x="936.5" y="756.3" width="11" height="16" rx="5.5"/>
<circle class="w" cx="942" cy="761.8" r="5.3" />
<circle class="o" cx="942" cy="761.8" r="2.6" />
<rect class="o" x="937.5" y="837.6" width="10" height="20.6" rx="4.5"/>
<!--END-->
</svg></body></html>
